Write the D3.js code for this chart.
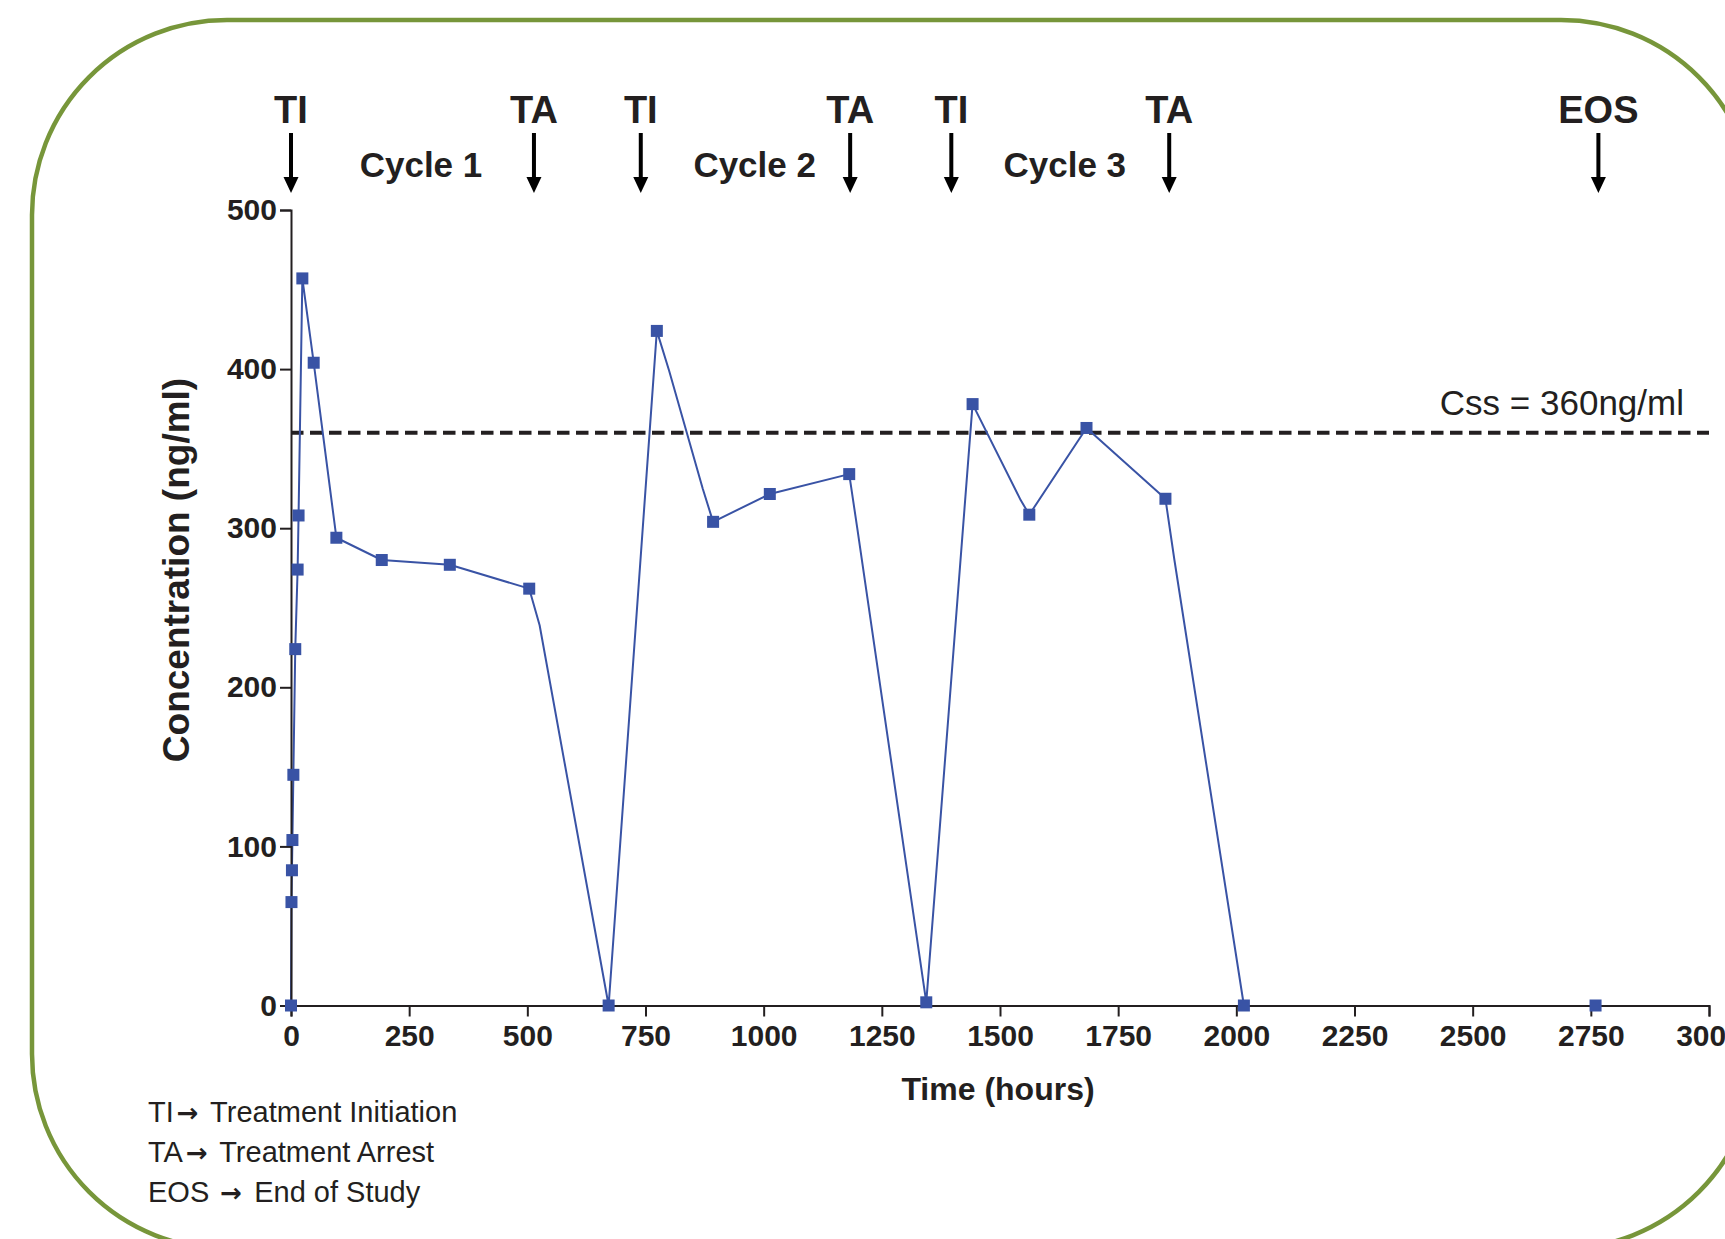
<!DOCTYPE html>
<html>
<head>
<meta charset="utf-8">
<script src="https://cdn.jsdelivr.net/npm/d3@7"></script>
<style>
  body { margin: 0; background: #fff; }
  svg { display: block; }
  text { font-family: "Liberation Sans", Arial, Helvetica, sans-serif; fill: #231f20; }
</style>
</head>
<body>
<div id="chart"></div>
<script>
// ===== DATA =====
// sampling times (hours) and measured concentration (ng/ml)
const timeHours     = [0, 1, 2, 3, 5, 9, 14, 16, 24, 48, 96, 192, 336, 504, 526, 672, 774, 800, 871, 893, 1013, 1181, 1198, 1344, 1442, 1544, 1562, 1683, 1850, 1869, 2016, 2760];
const concentration = [0, 65, 85, 104, 145, 224, 274, 308, 457, 404, 294, 280, 277, 262, 239, 0, 424, 399, 325, 304, 321.5, 334, 300, 2, 378, 317.5, 308.5, 363, 318.5, 280, 0, 0];
// 1 = sample drawn with a square marker, 0 = line vertex only
const hasMarker     = [1, 1, 1, 1, 1, 1, 1, 1, 1, 1, 1, 1, 1, 1, 0, 1, 1, 0, 0, 1, 1, 1, 0, 1, 1, 0, 1, 1, 1, 0, 1, 1];

const steadyState = 360;  // Css

// treatment events along the top
const eventNames = ["TI", "TA", "TI", "TA", "TI", "TA", "EOS"];
const eventTimes = [0, 514, 740, 1183, 1397, 1858, 2766];

const cycleNames = ["Cycle 1", "Cycle 2", "Cycle 3"];
const cycleTimes = [275, 981, 1637];

const xTicks = [0, 250, 500, 750, 1000, 1250, 1500, 1750, 2000, 2250, 2500, 2750, 3000];
const yTicks = [0, 100, 200, 300, 400, 500];

// abbreviation key: [abbreviation, meaning]
const legendAbbr = ["TI", "TA", "EOS "];
const legendText = ["Treatment Initiation", "Treatment Arrest", "End of Study"];

// ===== LAYOUT =====
const W = 1725, H = 1239;
const ink = '#231f20';
const blue = '#3953a5';

const svg = d3.select('#chart').append('svg')
  .attr('width', W)
  .attr('height', H);

svg.append('rect').attr('width', W).attr('height', H).attr('fill', '#fff');

// green rounded frame
svg.append('rect')
  .attr('x', 32).attr('y', 20)
  .attr('width', 1724).attr('height', 1229)
  .attr('rx', 195).attr('ry', 195)
  .attr('fill', 'none')
  .attr('stroke', '#77963a')
  .attr('stroke-width', 4.5);

const x = d3.scaleLinear().domain([0, 3000]).range([291, 1709]);
const y = d3.scaleLinear().domain([0, 500]).range([1005.5, 210]);

const points = timeHours.map((t, i) => ({ t: t, c: concentration[i], m: hasMarker[i] }));
const eosTime = eventTimes[eventTimes.length - 1];

// Css reference line
svg.append('line')
  .attr('x1', x(0)).attr('x2', x(3000))
  .attr('y1', y(steadyState)).attr('y2', y(steadyState))
  .attr('stroke', ink)
  .attr('stroke-width', 4)
  .attr('stroke-dasharray', '12.5,6.5');

svg.append('text')
  .attr('x', 1684).attr('y', 415)
  .attr('text-anchor', 'end')
  .style('font-size', '35px')
  .text('Css = ' + steadyState + 'ng/ml');

// concentration line (stops at the last sample before end of study)
const line = d3.line().x(d => x(d.t)).y(d => y(d.c));
svg.append('path')
  .datum(points.filter(d => d.t < eosTime - 100))
  .attr('d', line)
  .attr('fill', 'none')
  .attr('stroke', blue)
  .attr('stroke-width', 2)
  .attr('stroke-linejoin', 'round');

// axes
const xAxis = svg.append('g')
  .attr('transform', `translate(0,${y(0)})`)
  .call(d3.axisBottom(x).tickValues(xTicks).tickSize(11).tickPadding(8).tickFormat(d3.format('d')));
const yAxis = svg.append('g')
  .attr('transform', `translate(${x(0)},0)`)
  .call(d3.axisLeft(y).tickValues(yTicks).tickSize(11).tickPadding(3));

[xAxis, yAxis].forEach(g => {
  g.selectAll('path, line').attr('stroke', ink).attr('stroke-width', 2);
  g.selectAll('text')
    .attr('fill', ink)
    .style('font-size', '30px')
    .style('font-weight', 'bold')
    .style('font-family', '"Liberation Sans", Arial, sans-serif');
});

// markers
const ms = 12;
svg.append('g').selectAll('rect')
  .data(points.filter(d => d.m))
  .join('rect')
  .attr('x', d => x(d.t) - ms / 2)
  .attr('y', d => y(d.c) - ms / 2)
  .attr('width', ms)
  .attr('height', ms)
  .attr('fill', blue);

// axis titles
svg.append('text')
  .attr('x', 998).attr('y', 1100)
  .attr('text-anchor', 'middle')
  .style('font-size', '32px')
  .style('font-weight', 'bold')
  .text('Time (hours)');

svg.append('text')
  .attr('transform', 'translate(189,570) rotate(-90)')
  .attr('text-anchor', 'middle')
  .style('font-size', '37px')
  .style('font-weight', 'bold')
  .text('Concentration (ng/ml)');

// event arrows and labels
const events = svg.append('g').selectAll('g')
  .data(eventTimes.map((t, i) => ({ t: t, name: eventNames[i] })))
  .join('g')
  .attr('transform', d => `translate(${x(d.t)},0)`);

events.append('line')
  .attr('y1', 133).attr('y2', 180)
  .attr('stroke', '#000')
  .attr('stroke-width', 4);

events.append('path')
  .attr('d', 'M -7.5 177 L 7.5 177 L 0 193 Z')
  .attr('fill', '#000');

events.append('text')
  .attr('y', 123)
  .attr('text-anchor', 'middle')
  .style('font-size', '38px')
  .style('font-weight', 'bold')
  .text(d => d.name);

svg.append('g').selectAll('text')
  .data(cycleTimes.map((t, i) => ({ t: t, name: cycleNames[i] })))
  .join('text')
  .attr('x', d => x(d.t))
  .attr('y', 177)
  .attr('text-anchor', 'middle')
  .style('font-size', '35px')
  .style('font-weight', 'bold')
  .text(d => d.name);

// abbreviation key
const key = svg.append('g').selectAll('text')
  .data(legendAbbr.map((a, i) => ({ abbr: a, text: legendText[i] })))
  .join('text')
  .attr('x', 148)
  .attr('y', (d, i) => 1122 + i * 40)
  .style('font-size', '29px');

key.append('tspan').text(d => d.abbr);
key.append('tspan')
  .attr('dx', 3)
  .style('font-family', '"DejaVu Sans", sans-serif')
  .style('font-weight', 'bold')
  .style('font-size', '26px')
  .text('\u2192');
key.append('tspan').attr('dx', 4).text(d => ' ' + d.text);
</script>
</body>
</html>
